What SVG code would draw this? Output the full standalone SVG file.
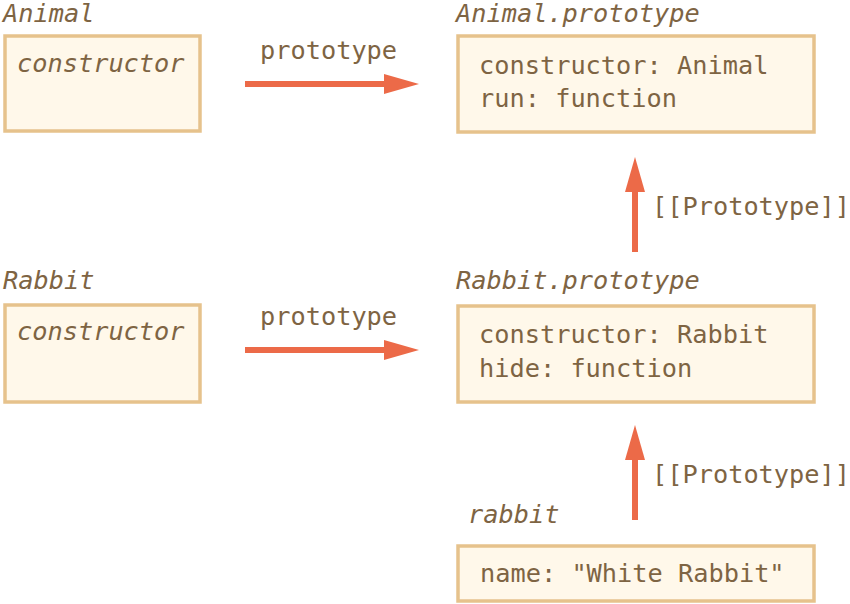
<svg xmlns="http://www.w3.org/2000/svg" width="850" height="604" viewBox="0 0 850 604">
<defs>
<style>
.box{fill:#fff8ea;stroke:#e6c28c;stroke-width:3.5}
text{font-family:"DejaVu Sans Mono","Liberation Mono",monospace;font-size:25.3px;fill:#7e6443}
.it{font-style:italic}
.ln{stroke:#ec6a48;stroke-width:6;fill:none}
</style>
<marker id="ah" markerUnits="userSpaceOnUse" markerWidth="36" markerHeight="22" refX="0" refY="11" orient="auto" viewBox="0 0 36 22">
<path d="M0,1 L35,11 L0,21 Z" fill="#ec6a48"/>
</marker>
</defs>
<rect width="850" height="604" fill="#ffffff"/>
<g id="animal">
<text class="it" x="3" y="22">Animal</text>
<rect class="box" x="5" y="36" width="195" height="95"/>
<text class="it" x="17" y="72">constructor</text>
</g>
<g id="animal-prototype">
<text class="it" x="456" y="22">Animal.prototype</text>
<rect class="box" x="458" y="36" width="356" height="96"/>
<text x="479" y="74">constructor: Animal</text>
<text x="479" y="107">run: function</text>
</g>
<g id="rabbit-ctor">
<text class="it" x="3" y="289">Rabbit</text>
<rect class="box" x="5" y="305" width="195" height="97"/>
<text class="it" x="17" y="340">constructor</text>
</g>
<g id="rabbit-prototype">
<text class="it" x="456" y="289">Rabbit.prototype</text>
<rect class="box" x="458" y="306" width="356" height="96"/>
<text x="479" y="343">constructor: Rabbit</text>
<text x="479" y="377">hide: function</text>
</g>
<g id="rabbit">
<text class="it" x="468" y="523">rabbit</text>
<rect class="box" x="458" y="546" width="356" height="55"/>
<text x="480" y="582">name: "White Rabbit"</text>
</g>
<g id="connectors">
<line class="ln" x1="245" y1="84" x2="384" y2="84" marker-end="url(#ah)"/>
<text x="260" y="59">prototype</text>
<line class="ln" x1="245" y1="350" x2="384" y2="350" marker-end="url(#ah)"/>
<text x="260" y="325">prototype</text>
<line class="ln" x1="635" y1="252" x2="635" y2="192" marker-end="url(#ah)"/>
<text x="652" y="215">[[Prototype]]</text>
<line class="ln" x1="635" y1="520" x2="635" y2="460" marker-end="url(#ah)"/>
<text x="652" y="483">[[Prototype]]</text>
</g>
</svg>
